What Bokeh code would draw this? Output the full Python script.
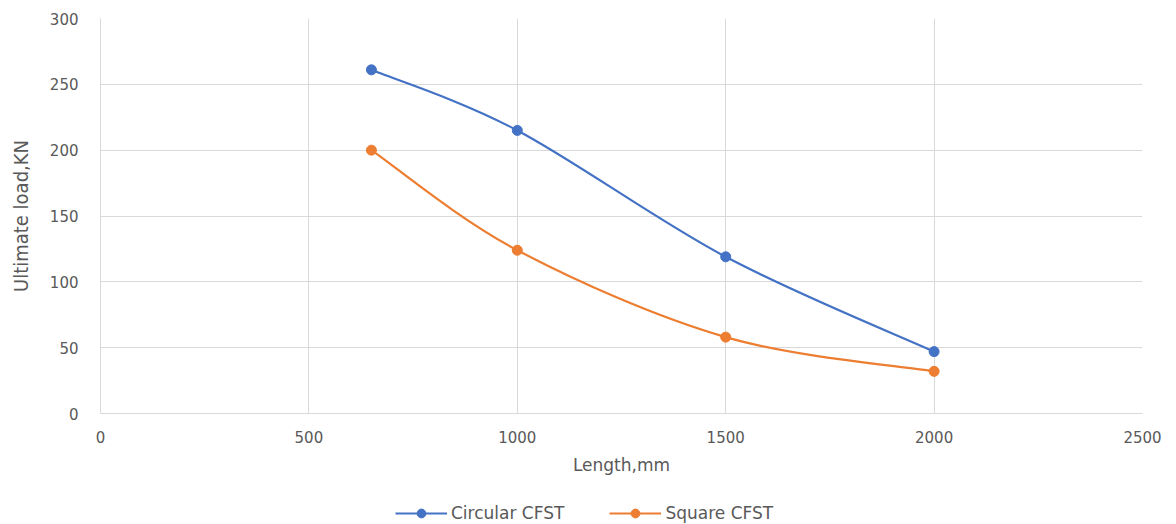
from bokeh.plotting import figure
from bokeh.layouts import column
from bokeh.models import Legend, LegendItem, FixedTicker, Range1d
from bokeh.embed import file_html
from bokeh.resources import INLINE

length_mm = [650, 1000, 1500, 2000]
circular_kn = [261, 215, 119, 47]
square_kn = [200, 124, 58, 32]
x_ticks = [0, 500, 1000, 1500, 2000, 2500]
y_ticks = [0, 50, 100, 150, 200, 250, 300]
series_names = ["Circular CFST", "Square CFST"]

BLUE = "#4472C4"
ORANGE = "#ED7D31"
GRID = "#d9d9d9"
TXT = "#595959"


def smooth_segments(xs, ys):
    # Catmull-Rom style control points (Excel-like smoothed line)
    n = len(xs)
    x0, y0, x1, y1, cx0, cy0, cx1, cy1 = [], [], [], [], [], [], [], []
    for i in range(n - 1):
        pa = max(i - 1, 0)
        pd = min(i + 2, n - 1)
        x0.append(xs[i]); y0.append(ys[i])
        x1.append(xs[i + 1]); y1.append(ys[i + 1])
        cx0.append(xs[i] + (xs[i + 1] - xs[pa]) / 6)
        cy0.append(ys[i] + (ys[i + 1] - ys[pa]) / 6)
        cx1.append(xs[i + 1] - (xs[pd] - xs[i]) / 6)
        cy1.append(ys[i + 1] - (ys[pd] - ys[i]) / 6)
    return dict(x0=x0, y0=y0, x1=x1, y1=y1, cx0=cx0, cy0=cy0, cx1=cx1, cy1=cy1)


p = figure(width=1172, height=500, output_backend="svg", toolbar_location=None,
           x_range=Range1d(0, 2500), y_range=Range1d(0, 300),
           min_border_left=100, min_border_right=30, min_border_top=18, min_border_bottom=87)
p.outline_line_color = None

for ax in (p.xaxis[0], p.yaxis[0]):
    ax.major_tick_line_color = None
    ax.minor_tick_line_color = None
    ax.axis_line_color = GRID
    ax.major_label_text_color = TXT
    ax.major_label_text_font = "DejaVu Sans"
    ax.major_label_text_font_size = "15px"
    ax.axis_label_text_color = TXT
    ax.axis_label_text_font_style = "normal"

p.xaxis.ticker = FixedTicker(ticks=x_ticks)
p.yaxis.ticker = FixedTicker(ticks=y_ticks)
p.xaxis.major_label_standoff = 11
p.yaxis.major_label_standoff = 16
p.xaxis.axis_label = "Length,mm"
p.xaxis.axis_label_text_font = "DejaVu Sans"
p.xaxis.axis_label_text_font_size = "17px"
p.xaxis.axis_label_standoff = 9
p.yaxis.axis_label = "Ultimate load,KN"
p.yaxis.axis_label_text_font = "DejaVu Sans Condensed"
p.yaxis.axis_label_text_font_size = "20px"
p.yaxis.axis_label_standoff = 14

p.xgrid.ticker = FixedTicker(ticks=x_ticks)
p.ygrid.ticker = FixedTicker(ticks=y_ticks)
p.xgrid.grid_line_color = GRID
p.ygrid.grid_line_color = GRID

colors = [BLUE, ORANGE]
for ys, col in zip((circular_kn, square_kn), colors):
    seg = smooth_segments(length_mm, ys)
    p.bezier(x0="x0", y0="y0", x1="x1", y1="y1", cx0="cx0", cy0="cy0", cx1="cx1", cy1="cy1",
             source=seg, line_color=col, line_width=2.2)
    p.scatter(length_mm, ys, size=10, color=col)

# legend strip below the chart (its sample glyphs sit outside the visible range)
lg = figure(width=1172, height=24, output_backend="svg", toolbar_location=None,
            x_range=Range1d(0, 1), y_range=Range1d(0, 1),
            x_axis_location=None, y_axis_location=None,
            min_border_left=0, min_border_right=0, min_border_top=0, min_border_bottom=0)
lg.outline_line_color = None
lg.xgrid.visible = False
lg.ygrid.visible = False
items = []
for name, col in zip(series_names, colors):
    r1 = lg.line([5, 6], [5, 6], line_color=col, line_width=2.2)
    r2 = lg.scatter([5], [5], size=10, color=col)
    items.append(LegendItem(label=name, renderers=[r1, r2]))

legend = Legend(items=items, orientation="horizontal", location=(295, 0),
                border_line_color=None, background_fill_alpha=0,
                label_text_color=TXT, label_text_font="DejaVu Sans", label_text_font_size="17px",
                glyph_width=52, glyph_height=22, spacing=45, padding=0, margin=0, label_standoff=4)
lg.add_layout(legend, "center")

layout = column(p, lg, spacing=0)
open("out.html", "w").write(file_html(layout, INLINE))
